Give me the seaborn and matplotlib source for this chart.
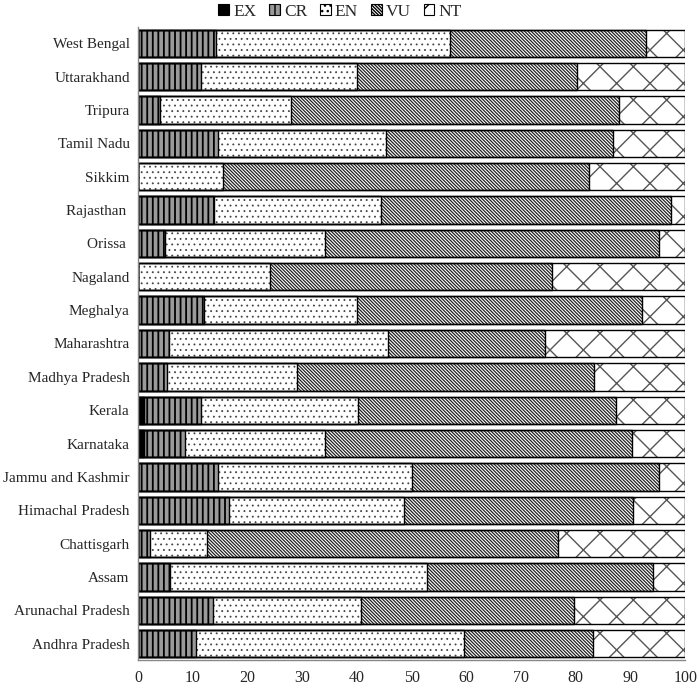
import numpy as np
import pandas as pd
import matplotlib
matplotlib.use("Agg")
import matplotlib.pyplot as plt
from matplotlib.patches import Patch
from matplotlib.ticker import FixedLocator
import seaborn as sns

# 数据：各邦受威胁物种比例（%），从上到下
states = [
    "West Bengal", "Uttarakhand", "Tripura", "Tamil Nadu", "Sikkim",
    "Rajasthan ", "Orissa ", "Nagaland", "Meghalya", "Maharashtra",
    "Madhya Pradesh", "Kerala", "Karnataka", "Jammu and Kashmir",
    "Himachal Pradesh", "Chattisgarh", "Assam", "Arunachal Pradesh",
    "Andhra Pradesh",
]
ex = [0, 0, 0, 0, 0, 0, 0, 0, 0, 0, 0, 1.1, 1.1, 0, 0, 0, 0, 0, 0]
cr = [14.3, 11.6, 4.1, 14.7, 0, 13.9, 5.0, 0, 12.1, 5.7,
      5.3, 10.5, 7.4, 14.7, 16.7, 2.2, 5.8, 13.7, 10.6]
en = [42.8, 28.4, 23.9, 30.6, 15.6, 30.5, 29.1, 24.2, 27.9, 40.0,
      23.8, 28.6, 25.6, 35.3, 31.9, 10.5, 47.0, 27.1, 48.9]
vu = [35.8, 40.2, 60.0, 41.5, 66.8, 53.0, 61.1, 51.5, 52.1, 28.7,
      54.3, 47.2, 56.2, 45.2, 41.8, 64.0, 41.4, 38.8, 23.6]
nt = [7.1, 19.8, 12.0, 13.2, 17.6, 2.6, 4.8, 24.3, 7.9, 25.6,
      16.6, 12.6, 9.7, 4.8, 9.6, 23.3, 5.8, 20.4, 16.9]

categories = ["EX", "CR", "EN", "VU", "NT"]
styles = {
    "EX": dict(facecolor="black", hatch=None, hcolor="black", hlw=1.0),
    "CR": dict(facecolor="#9a9a9a", hatch="|||", hcolor="black", hlw=1.3),
    "EN": dict(facecolor="white", hatch="...", hcolor="#444444", hlw=0.6),
    "VU": dict(facecolor="white", hatch="\\" * 10, hcolor="#222222", hlw=0.9),
    "NT": dict(facecolor="white", hatch="x", hcolor="#555555", hlw=1.0),
}

df = pd.DataFrame({"state": states, "EX": ex, "CR": cr, "EN": en, "VU": vu, "NT": nt})
cum = df[categories].cumsum(axis=1)
cum["state"] = df["state"]

sns.set_style("white")
plt.rcParams["font.family"] = ["Liberation Serif", "DejaVu Serif"]

fig = plt.figure(figsize=(6.97, 6.87), dpi=100)
ax = fig.add_axes([0.198, 0.039, 0.785, 0.922])

# 从右往左叠加，每层覆盖前一层
for cat in reversed(categories):
    st = styles[cat]
    with plt.rc_context({"hatch.linewidth": st["hlw"]}):
        sns.barplot(data=cum, x=cat, y="state", order=states, orient="h",
                    color=st["facecolor"], saturation=1, width=0.82,
                    edgecolor=st["hcolor"], linewidth=0, hatch=st["hatch"], ax=ax)

# 黑色轮廓
for cat in reversed(categories):
    sns.barplot(data=cum, x=cat, y="state", order=states, orient="h",
                fill=False, width=0.82, edgecolor="black", linewidth=1.0, ax=ax)

ax.set_xlim(0, 100)
ax.set_ylim(len(states) - 0.5, -0.5)
ax.set_xlabel("")
ax.set_ylabel("")
ax.set_xticks(np.arange(0, 101, 10))
ax.tick_params(axis="x", labelsize=11.5, length=4, color="#888888", pad=3)
ax.tick_params(axis="y", which="major", labelsize=11, length=0, pad=6)
ax.yaxis.set_minor_locator(FixedLocator(np.arange(-0.5, len(states), 1)))
ax.tick_params(axis="y", which="minor", length=5, color="#888888")
for side in ["top", "right"]:
    ax.spines[side].set_visible(False)
for side in ["left", "bottom"]:
    ax.spines[side].set_color("#888888")
    ax.spines[side].set_linewidth(1.0)

handles = [
    Patch(facecolor=styles[c]["facecolor"], edgecolor="black",
          hatch=styles[c]["hatch"], linewidth=0.8, label=c)
    for c in categories
]
fig.legend(handles=handles, loc="upper center", bbox_to_anchor=(0.488, 1.017),
           ncol=5, frameon=False, fontsize=12.5, handlelength=0.6,
           handleheight=0.6, handletextpad=0.25, columnspacing=0.75)

fig.savefig("out.png", dpi=100)
